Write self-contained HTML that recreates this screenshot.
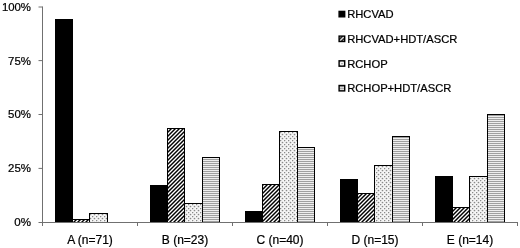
<!DOCTYPE html>
<html><head><meta charset="utf-8"><title>chart</title>
<style>html,body{margin:0;padding:0;background:#fff}svg{display:block;filter:grayscale(1)}text{font-family:"Liberation Sans",sans-serif;fill:#000;stroke:#000;stroke-width:.22px}.c{font-size:12px}.y{font-size:11.6px}.l{font-size:11.2px}</style></head><body>
<svg width="520" height="248" viewBox="0 0 520 248">
<defs>
<pattern id="pd" width="4" height="4" patternUnits="userSpaceOnUse"><rect width="4" height="4" fill="#fff"/><path d="M-1,1 L1,-1 M-1,5 L5,-1 M3,5 L5,3" stroke="#000" stroke-width="1.45"/></pattern>
<pattern id="pt" width="4" height="4" patternUnits="userSpaceOnUse"><rect width="4" height="4" fill="#f6f6f6"/><circle cx="0.5" cy="0.5" r="0.85" fill="#8a8a8a"/><circle cx="2.5" cy="2.5" r="0.85" fill="#8a8a8a"/></pattern>
<pattern id="ph" width="2" height="2" patternUnits="userSpaceOnUse"><rect width="2" height="2" fill="#eee"/><rect x="0" y="1" width="2" height="1" fill="#a0a0a0"/></pattern>
<pattern id="ld" width="4" height="4" patternUnits="userSpaceOnUse" patternTransform="translate(2.65,0)"><rect width="4" height="4" fill="#fff"/><path d="M-1,1 L1,-1 M-1,5 L5,-1 M3,5 L5,3" stroke="#000" stroke-width="1.45"/></pattern>
<pattern id="lt" width="4" height="4" patternUnits="userSpaceOnUse" patternTransform="translate(1.4,3.0)"><rect width="4" height="4" fill="#f6f6f6"/><circle cx="0.5" cy="0.5" r="0.85" fill="#8a8a8a"/><circle cx="2.5" cy="2.5" r="0.85" fill="#8a8a8a"/></pattern>
<pattern id="lh" width="2" height="2" patternUnits="userSpaceOnUse" patternTransform="translate(0,0.8)"><rect width="2" height="2" fill="#e6e6e6"/><rect x="0" y="1" width="2" height="1" fill="#9a9a9a"/></pattern>
</defs>
<rect width="520" height="248" fill="#fff"/>
<rect x="55.5" y="19.5" width="17.0" height="203.0" fill="#000" stroke="#000" stroke-width="1"/>
<rect x="72.5" y="219.5" width="17.0" height="3.0" fill="url(#pd)" stroke="#000" stroke-width="1"/>
<rect x="89.5" y="213.5" width="18.0" height="9.0" fill="url(#pt)" stroke="#000" stroke-width="1"/>
<rect x="150.5" y="185.5" width="17.0" height="37.0" fill="#000" stroke="#000" stroke-width="1"/>
<rect x="167.5" y="128.5" width="17.0" height="94.0" fill="url(#pd)" stroke="#000" stroke-width="1"/>
<rect x="184.5" y="203.5" width="18.0" height="19.0" fill="url(#pt)" stroke="#000" stroke-width="1"/>
<rect x="202.5" y="157.5" width="17.0" height="65.0" fill="url(#ph)" stroke="#000" stroke-width="1"/>
<rect x="245.5" y="211.5" width="17.0" height="11.0" fill="#000" stroke="#000" stroke-width="1"/>
<rect x="262.5" y="184.5" width="17.0" height="38.0" fill="url(#pd)" stroke="#000" stroke-width="1"/>
<rect x="279.5" y="131.5" width="18.0" height="91.0" fill="url(#pt)" stroke="#000" stroke-width="1"/>
<rect x="297.5" y="147.5" width="17.0" height="75.0" fill="url(#ph)" stroke="#000" stroke-width="1"/>
<rect x="340.5" y="179.5" width="17.0" height="43.0" fill="#000" stroke="#000" stroke-width="1"/>
<rect x="357.5" y="193.5" width="17.0" height="29.0" fill="url(#pd)" stroke="#000" stroke-width="1"/>
<rect x="374.5" y="165.5" width="18.0" height="57.0" fill="url(#pt)" stroke="#000" stroke-width="1"/>
<rect x="392.5" y="136.5" width="17.0" height="86.0" fill="url(#ph)" stroke="#000" stroke-width="1"/>
<rect x="435.5" y="176.5" width="17.0" height="46.0" fill="#000" stroke="#000" stroke-width="1"/>
<rect x="452.5" y="207.5" width="17.0" height="15.0" fill="url(#pd)" stroke="#000" stroke-width="1"/>
<rect x="469.5" y="176.5" width="18.0" height="46.0" fill="url(#pt)" stroke="#000" stroke-width="1"/>
<rect x="487.5" y="114.5" width="17.0" height="108.0" fill="url(#ph)" stroke="#000" stroke-width="1"/>
<path d="M42.5,6.5 V226.0" stroke="#707070" stroke-width="1" fill="none"/>
<path d="M38.5,222.5 H518.0" stroke="#707070" stroke-width="1" fill="none"/>
<text class="y" x="31" y="226.4" text-anchor="end" textLength="16.7" lengthAdjust="spacingAndGlyphs">0%</text>
<path d="M38.5,168.4 H42.5" stroke="#707070" stroke-width="1" fill="none"/>
<text class="y" x="31" y="172.3" text-anchor="end" textLength="22.9" lengthAdjust="spacingAndGlyphs">25%</text>
<path d="M38.5,114.5 H42.5" stroke="#707070" stroke-width="1" fill="none"/>
<text class="y" x="31" y="118.4" text-anchor="end" textLength="22.9" lengthAdjust="spacingAndGlyphs">50%</text>
<path d="M38.5,60.6 H42.5" stroke="#707070" stroke-width="1" fill="none"/>
<text class="y" x="31" y="64.5" text-anchor="end" textLength="22.9" lengthAdjust="spacingAndGlyphs">75%</text>
<path d="M38.5,7.0 H42.5" stroke="#707070" stroke-width="1" fill="none"/>
<text class="y" x="31" y="10.9" text-anchor="end" textLength="29.1" lengthAdjust="spacingAndGlyphs">100%</text>
<path d="M137.5,222.5 V226.0" stroke="#707070" stroke-width="1" fill="none"/>
<path d="M232.5,222.5 V226.0" stroke="#707070" stroke-width="1" fill="none"/>
<path d="M327.5,222.5 V226.0" stroke="#707070" stroke-width="1" fill="none"/>
<path d="M422.5,222.5 V226.0" stroke="#707070" stroke-width="1" fill="none"/>
<path d="M517.5,222.5 V226.0" stroke="#707070" stroke-width="1" fill="none"/>
<text class="c" x="90.00" y="244.2" text-anchor="middle">A (n=71)</text>
<text class="c" x="185.00" y="244.2" text-anchor="middle">B (n=23)</text>
<text class="c" x="280.00" y="244.2" text-anchor="middle">C (n=40)</text>
<text class="c" x="375.00" y="244.2" text-anchor="middle">D (n=15)</text>
<text class="c" x="470.00" y="244.2" text-anchor="middle">E (n=14)</text>
<rect x="339.1" y="11.40" width="5.6" height="5.4" fill="#000" stroke="#000" stroke-width="1.4"/>
<text class="l" x="347.2" y="18.10">RHCVAD</text>
<rect x="339.1" y="36.10" width="5.6" height="5.4" fill="url(#ld)" stroke="#000" stroke-width="1.4"/>
<text class="l" x="347.2" y="42.80">RHCVAD+HDT/ASCR</text>
<rect x="339.1" y="60.80" width="5.6" height="5.4" fill="url(#lt)" stroke="#000" stroke-width="1.4"/>
<text class="l" x="347.2" y="67.50">RCHOP</text>
<rect x="339.1" y="85.50" width="5.6" height="5.4" fill="url(#lh)" stroke="#000" stroke-width="1.4"/>
<text class="l" x="347.2" y="92.20">RCHOP+HDT/ASCR</text>
</svg></body></html>
